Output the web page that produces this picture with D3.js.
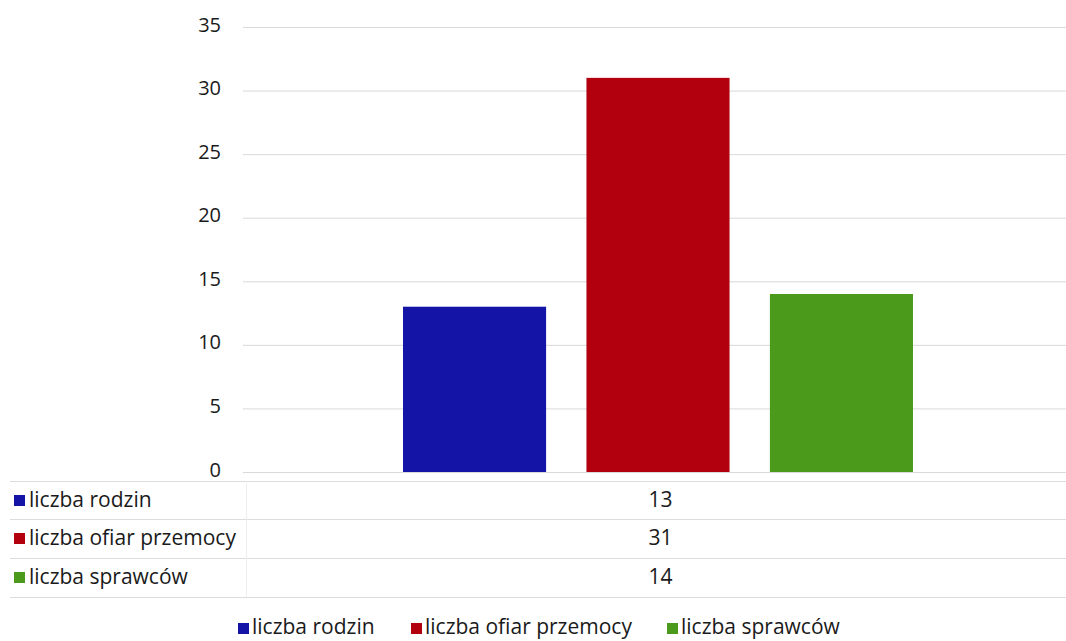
<!DOCTYPE html>
<html><head><meta charset="utf-8">
<script src="https://cdn.jsdelivr.net/npm/d3@7"></script>
<style>body{margin:0;background:#fff}svg{display:block}text{font-family:"Open Sans",Lato,sans-serif;fill:#1a1a1a;font-weight:500}</style>
</head><body><svg id="c" width="1066" height="641"></svg>
<script>
const categories = [""];
const seriesNames = ["liczba rodzin", "liczba ofiar przemocy", "liczba sprawców"];
const seriesValues = [13, 31, 14];
const seriesColors = ["#1414a6", "#b3000e", "#4b9a1c"];
const yTicks = [0, 5, 10, 15, 20, 25, 30, 35];

const svg = d3.select("#c");
const W = 1066;
const plotL = 243, plotR = 1066, plotT = 27, plotB = 472;
const y = d3.scaleLinear().domain([0, 35]).range([plotB, plotT]);
const x0 = d3.scaleBand().domain(categories).range([plotL, plotR]);
const x1 = d3.scaleBand().domain(seriesNames).range([x0(categories[0]) + 160, x0(categories[0]) + x0.bandwidth() - 153]).paddingInner(0.22);

// gridlines
svg.append("g").selectAll("line").data(yTicks).join("line")
  .attr("x1", plotL).attr("x2", plotR)
  .attr("y1", d => y(d) + 0.5).attr("y2", d => y(d) + 0.5)
  .attr("stroke", "#d9d9d9").attr("stroke-width", 1);

// y axis
const yAxis = d3.axisLeft(y).tickValues(yTicks).tickSize(0).tickPadding(0);
const ga = svg.append("g").attr("transform", `translate(221,0)`).call(yAxis);
ga.select(".domain").remove();
ga.selectAll("text").style("font-size", "20px").style("font-family", "'Open Sans',sans-serif").style("font-weight", "500")
  .attr("dy", "0.2em").style("fill", "#1a1a1a");

// bars
svg.append("g").selectAll("rect").data(seriesNames).join("rect")
  .attr("x", d => x1(d))
  .attr("width", x1.bandwidth())
  .attr("y", (d, i) => y(seriesValues[i]))
  .attr("height", (d, i) => y(0) - y(seriesValues[i]))
  .attr("fill", (d, i) => seriesColors[i]);

// data table
const rowLines = [481, 519, 558, 597];
const tg = svg.append("g");
tg.selectAll("line.h").data(rowLines).join("line").attr("class", "h")
  .attr("x1", 10).attr("x2", W)
  .attr("y1", d => d + 0.5).attr("y2", d => d + 0.5)
  .attr("stroke", "#dcdcdc");
tg.append("line").attr("x1", 246.5).attr("x2", 246.5).attr("y1", rowLines[0]).attr("y2", rowLines[3]).attr("stroke", "#eeeeee");
seriesNames.forEach((name, i) => {
  const base = rowLines[i] + 26;
  tg.append("rect").attr("x", 14).attr("y", base - 12).attr("width", 11).attr("height", 11).attr("fill", seriesColors[i]);
  tg.append("text").attr("x", 29).attr("y", base).style("font-size", "21px").text(name);
  tg.append("text").attr("x", x0(categories[0]) + x0.bandwidth() / 2 + 6).attr("y", base)
    .attr("text-anchor", "middle").style("font-size", "21px").text(seriesValues[i]);
});

// legend
const legX = [238, 411, 667];
const lg = svg.append("g");
seriesNames.forEach((name, i) => {
  lg.append("rect").attr("x", legX[i]).attr("y", 623).attr("width", 11).attr("height", 11).attr("fill", seriesColors[i]);
  lg.append("text").attr("x", legX[i] + 14).attr("y", 634).style("font-size", "21px").text(name);
});
</script></body></html>
